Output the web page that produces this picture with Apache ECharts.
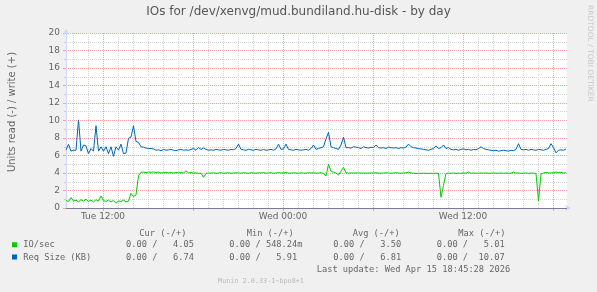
<!DOCTYPE html>
<html><head><meta charset="utf-8">
<script src="https://cdn.jsdelivr.net/npm/echarts@6/dist/echarts.min.js"></script>
<style>html,body{margin:0;padding:0;background:#f0f0f0}#c{width:597px;height:292px}</style>
</head><body><div id="c"></div>
<script>
// time axis in hours since Tue 00:00
const START_HOUR = 9.5333;       // first sample (Tue ~09:32)
const STEP_HOURS = 1 / 6;        // 10-minute samples
const X_MIN = 9.5333, X_MAX = 42.9333;
const minorHours = [10,11,12,13,14,15,16,17,18,19,20,21,22,23,24,25,26,27,28,29,30,31,32,33,34,35,36,37,38,39,40,41,42];
const majorHours = [12,18,24,30,36,42];
const labelHours = [12,24,36];
const tickLabels = ['Tue 12:00','Wed 00:00','Wed 12:00'];
const Y_MIN = 0, Y_MAX = 20, Y_STEP = 2;
const zeroLine = 0;

const ioSec = [
0.85,0.75,1.2,0.8,0.9,0.7,0.95,0.8,1.0,0.75, 0.9,0.7,0.95,0.8,1.37,0.85,0.75,0.9,0.7,0.85,
0.55,0.8,0.75,0.9,0.7,0.8,1.68,1.3,1.5,3.7, 4.08,4.1,4.05,4.1,4.08,4.12,
4.05,4.1,4.0,4.05,4.08,4.02,4.05,4.0,4.06,4.02,4.05,4.0,4.25,4.02,4.05,
4.0,4.02,3.95,3.98,3.5,
3.95,4.0,3.98,4.02,3.97,4.0,4.03,3.98,4.0,4.02,3.97,4.0,4.02,
4.0,
3.98,4.02,4.0,3.97,4.03,4.0,3.98,4.02,4.0,4.05,3.98,4.0,4.03,3.97,4.0,
4.05,
4.0,4.02,
4.05,
4.0,3.98,4.02,4.0,3.97,4.02,4.0,3.98,4.03,4.0,
4.02,
3.98,4.0,4.03,
3.95,3.66,5.01,4.2,4.1,4.0,3.77,4.2,4.65,4.0,
4.0,4.0,4.0,4.01,4.0,4.0,4.0,3.98,4.0,4.0,4.0,
4.02,
4.0,3.98,4.0,4.02,4.0,3.98,4.0,4.02,4.0,3.98,4.0,4.02,
4.1,
4.0,3.98,3.95,3.97,3.95,3.98,3.97,3.95,3.97,3.96,
3.97,
3.95,1.22,2.6,3.95,3.98,
3.97,4.0,3.96,3.98,3.97,4.0,3.98,4.1,3.97,4.0,3.98,3.97,
4.0,
3.98,4.0,3.97,3.98,4.0,3.97,3.98,4.0,3.97,4.0,3.98,3.97,4.1,3.98,
4.0,
3.97,3.98,4.0,3.97,3.98,4.0,3.95,0.83,3.9,4.0,4.05,4.02,
4.0,
4.05,4.1,4.05,4.08,4.0,4.05
];

const reqSize = [
6.63,7.28,6.5,6.6,6.6,10.07,6.5,7.2,7.1,6.2, 6.8,6.5,9.4,6.5,7.0,6.5,7.0,6.2,7.0,5.91,
7.0,6.6,7.3,6.2,6.3,7.96,8.1,9.4,7.6,7.5, 7.0,6.95,6.85,6.8,6.8,6.75,
6.6,6.65,6.55,6.7,6.6,6.65,6.7,6.6,6.55,6.65,6.7,6.6,6.65,6.6,6.7,
6.8,6.6,6.9,6.7,6.85,
6.7,6.6,6.65,6.6,6.7,6.65,6.6,6.7,6.65,6.6,6.7,6.65,6.8,
7.3,
6.7,6.65,6.6,6.7,6.65,6.6,6.7,6.65,6.6,6.7,6.6,6.65,6.7,6.6,6.75,
7.3,
6.7,6.75,
7.3,
6.7,6.65,6.6,6.7,6.65,6.6,6.65,6.7,6.6,6.8,
7.2,
6.7,6.8,6.9,
7.0,7.9,8.65,7.0,6.9,6.8,6.7,7.2,8.1,6.9,
6.9,6.85,7.0,6.95,6.9,6.8,7.0,6.9,6.85,6.95,6.9,
7.2,
6.9,6.85,6.9,6.8,6.95,6.9,6.85,6.9,6.8,6.9,6.85,6.95,
7.3,
7.0,6.9,6.85,6.8,6.75,6.7,6.65,6.6,6.7,6.8,
7.1,
6.8,6.9,7.2,6.8,6.9,
6.7,6.65,6.7,6.6,6.7,6.75,6.65,6.7,6.6,6.7,6.65,6.8,
7.0,
6.8,6.7,6.65,6.6,6.55,6.6,6.5,6.55,6.6,6.55,6.5,6.6,6.55,6.7,
7.35,
6.7,6.65,6.7,6.6,6.7,6.65,6.6,6.7,6.65,6.6,6.7,6.8,
7.35,
6.9,6.3,6.6,6.65,6.6,6.74
];

const legendNames = ['IO/sec','Req Size (KB)'];
const legendColors = ['#00cc00','#0066b3'];
const legendHeaders = ['Cur (-/+)','Min (-/+)','Avg (-/+)','Max (-/+)'];
const ioSecStats = ['0.00 /   4.05','0.00 / 548.24m','0.00 /   3.50','0.00 /   5.01'];
const reqSizeStats = ['0.00 /   6.74','0.00 /   5.91','0.00 /   6.81','0.00 /  10.07'];
const titleText = 'IOs for /dev/xenvg/mud.bundiland.hu-disk - by day';
const yAxisTitle = 'Units read (-) / write (+)';
const lastUpdate = 'Last update: Wed Apr 15 18:45:28 2026';
const footer = 'Munin 2.0.33-1~bpo8+1';
const sideText = 'RRDTOOL / TOBI OETIKER';

const toPairs = arr => arr.map((v, i) => [START_HOUR + i * STEP_HOURS, v]);

const MONO = "'DejaVu Sans Mono', monospace";
const SANS = "'DejaVu Sans', sans-serif";
const FONT_COLOR = '#666666';
const MONO_SIZE = 8.7;

const headerX = [139.3, 246.7, 352.7, 458.3];
const valueX = [126, 229.3, 333.3, 436.7];
const rowY = [245, 257.3];

const graphics = [];
graphics.push({type:'text', x:298.5, y:12, style:{text:titleText, font:'12px ' + SANS, fill:'#555', align:'center', verticalAlign:'middle'}});
graphics.push({type:'text', x:12, y:112, rotation:Math.PI/2, style:{text:yAxisTitle, font:'10px ' + SANS, fill:FONT_COLOR, align:'center', verticalAlign:'middle'}});
graphics.push({type:'text', x:590, y:5, rotation:-Math.PI/2, style:{text:sideText, font:'7.5px ' + SANS, fill:'#c8c8c8', align:'left', verticalAlign:'middle'}});
legendHeaders.forEach((h, i) => graphics.push({type:'text', x:headerX[i], y:234, style:{text:h, font:MONO_SIZE + 'px ' + MONO, fill:FONT_COLOR, align:'left', verticalAlign:'middle'}}));
[ioSecStats, reqSizeStats].forEach((row, r) => {
  graphics.push({type:'rect', shape:{x:12, y:rowY[r] - 2.8, width:5, height:5}, style:{fill:legendColors[r]}});
  graphics.push({type:'text', x:23.3, y:rowY[r], style:{text:legendNames[r], font:MONO_SIZE + 'px ' + MONO, fill:FONT_COLOR, align:'left', verticalAlign:'middle'}});
  row.forEach((s, i) => graphics.push({type:'text', x:valueX[i], y:rowY[r], style:{text:s, font:MONO_SIZE + 'px ' + MONO, fill:FONT_COLOR, align:'left', verticalAlign:'middle'}}));
});
graphics.push({type:'text', x:316.7, y:270, style:{text:lastUpdate, font:MONO_SIZE + 'px ' + MONO, fill:FONT_COLOR, align:'left', verticalAlign:'middle'}});
graphics.push({type:'text', x:261, y:281.5, style:{text:footer, font:'6.8px ' + MONO, fill:'#bbbbbb', align:'center', verticalAlign:'middle'}});

const chart = echarts.init(document.getElementById('c'), null, {renderer:'canvas'});
chart.setOption({
  animation:false,
  backgroundColor:'#f0f0f0',
  grid:{left:66, right:30, top:33, bottom:84, show:true, backgroundColor:'#ffffff', borderWidth:0},
  xAxis:[
    {type:'value', min:X_MIN, max:X_MAX,
     axisLine:{show:true, lineStyle:{color:'#cfd6f8'}, symbol:['none','arrow'], symbolSize:[5,6], symbolOffset:[0,4]},
     axisTick:{show:false, customValues:minorHours},
     axisLabel:{show:false},
     splitLine:{show:true, lineStyle:{color:'#d4d4d4', type:[1,1], width:1}}},
    {type:'value', min:X_MIN, max:X_MAX, position:'bottom',
     axisLine:{show:false},
     axisTick:{show:true, customValues:majorHours, length:3, lineStyle:{color:'#f2a0a0'}},
     axisLabel:{show:true, customValues:labelHours, margin:4, fontSize:9, fontFamily:SANS, color:FONT_COLOR,
       formatter: v => { const k = labelHours.indexOf(Math.round(v)); return k >= 0 ? tickLabels[k] : ''; }},
     splitLine:{show:true, lineStyle:{color:'#f2a0a0', type:[1,1], width:1}}}
  ],
  yAxis:{type:'value', min:Y_MIN, max:Y_MAX, interval:Y_STEP,
    axisLine:{show:true, lineStyle:{color:'#cfd6f8'}, symbol:['none','arrow'], symbolSize:[5,6], symbolOffset:[0,4]},
    axisTick:{show:true, length:3, lineStyle:{color:'#f2a0a0'}},
    minorTick:{show:true, splitNumber:2, length:2, lineStyle:{color:'#cccccc'}},
    axisLabel:{fontSize:9, fontFamily:SANS, color:FONT_COLOR, margin:6},
    splitLine:{show:true, lineStyle:{color:'#f2a0a0', type:[1,1], width:1}},
    minorSplitLine:{show:true, lineStyle:{color:'#d4d4d4', type:[1,1], width:1}}},
  series:[
    {name:legendNames[0], type:'line', xAxisIndex:0, data:toPairs(ioSec), showSymbol:false, symbol:'none',
     lineStyle:{color:legendColors[0], width:1}, itemStyle:{color:legendColors[0]}},
    {name:legendNames[1], type:'line', xAxisIndex:0, data:toPairs(reqSize), showSymbol:false, symbol:'none',
     lineStyle:{color:legendColors[1], width:1}, itemStyle:{color:legendColors[1]},
     markLine:{silent:true, symbol:'none', label:{show:false}, animation:false,
       lineStyle:{color:'#7a7a96', type:'solid', width:1}, data:[{yAxis:zeroLine}]}}
  ],
  graphic:graphics
});
</script>
</body></html>
